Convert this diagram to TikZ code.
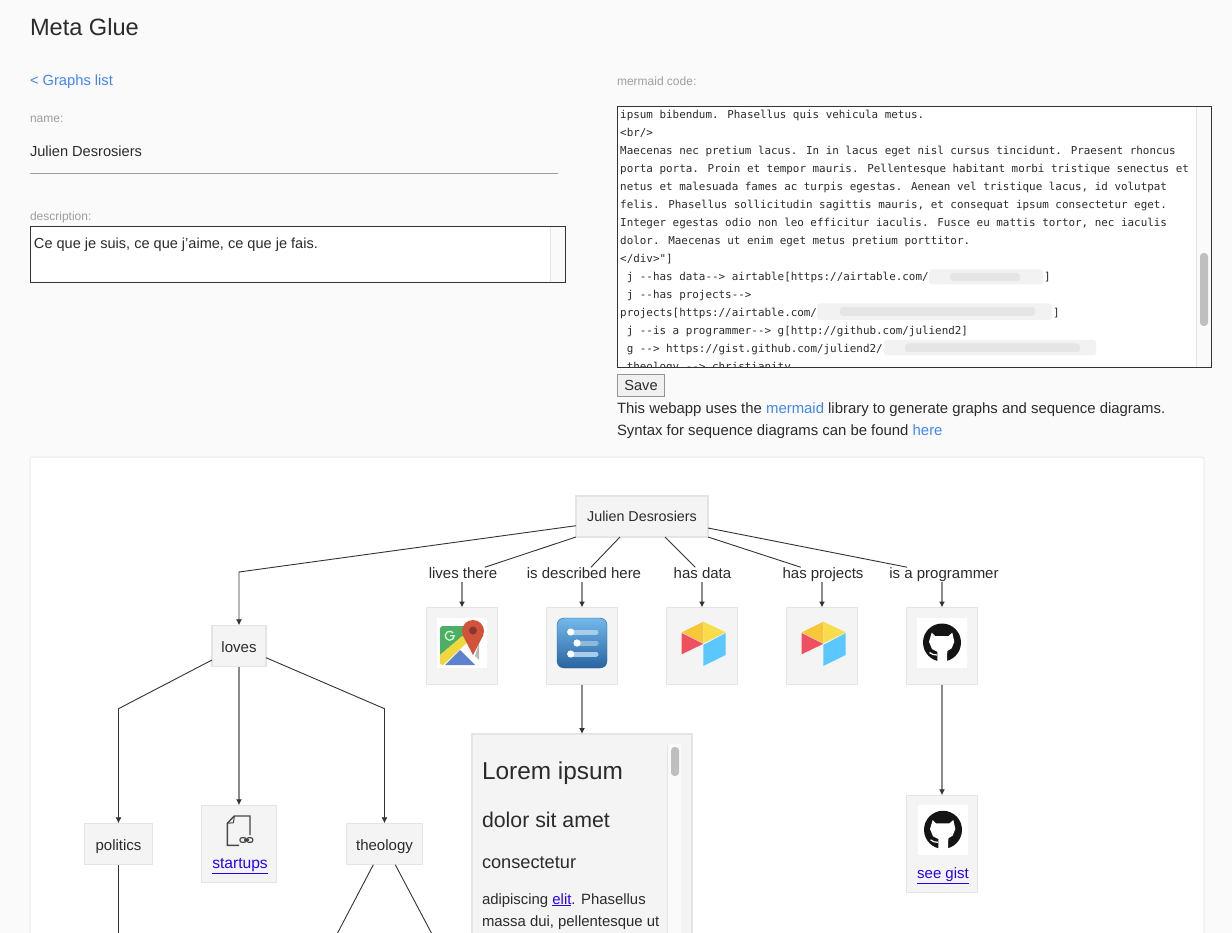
\documentclass[tikz,border=0pt]{standalone}
\usepackage{fontspec}
\setmainfont{Liberation Sans}
\newfontfamily\codefont{DejaVu Sans Mono}
\usetikzlibrary{arrows.meta}
\definecolor{pagebg}{HTML}{FAFAFA}
\definecolor{ink}{HTML}{2B2B2B}
\definecolor{muted}{HTML}{9E9E9E}
\definecolor{linkblue}{HTML}{4285F4}
\definecolor{anchorblue}{HTML}{2A00F5}
\definecolor{boxfill}{HTML}{F4F4F4}
\definecolor{boxline}{HTML}{E4E4E4}
\definecolor{edgedark}{HTML}{333333}
\definecolor{edgegrey}{HTML}{8A8A8A}
\definecolor{barlight}{HTML}{A9CDE8}
\definecolor{barfaint}{HTML}{8FB8DA}
\tikzset{
  txt/.style={inner sep=0pt, outer sep=0pt, text=ink, font=\fontsize{14.9}{18}\selectfont},
  lefttxt/.style={txt, anchor=base west},
  small/.style={lefttxt, text=muted, font=\fontsize{12}{14}\selectfont},
  codeline/.style={inner sep=0pt, anchor=base west, text=ink, font=\codefont\fontsize{10.9}{18}\selectfont},
  gbox/.style={draw=boxline, fill=boxfill, line width=1.2pt, inner sep=0pt, outer sep=0pt, text=ink,
    font=\fontsize{15}{18}\selectfont, text height=12pt, text depth=0pt},
  iconbox/.style={gbox, line width=1.8pt, minimum width=71pt, minimum height=77pt},
  edgelabel/.style={txt, font=\fontsize{15}{18}\selectfont, text height=11pt, text depth=3.5pt},
  edge/.style={draw=edgedark, line width=0.9pt, -{Latex[length=6pt,width=6pt,color=edgedark]}},
  bare/.style={draw=edgedark, line width=0.9pt},
  straightedge/.style={draw=edgegrey, line width=1.4pt, -{Latex[length=6pt,width=6pt,color=edgedark]}},
  blurA/.style={fill=#1, draw=none, rounded corners=3pt},
  pics/airtable/.style={code={
    \fill[fill={rgb,255:red,247;green,198;blue,57}] (26.3,3.7) -- (4.7,14.3) -- (26.3,25.3) -- cycle;
    \fill[fill={rgb,255:red,249;green,220;blue,75}] (26.3,3.7) -- (48.7,14.3) -- (26.3,25.3) -- cycle;
    \fill[fill={rgb,255:red,239;green,79;blue,95}] (4.7,15) -- (26.3,25.8) -- (4.7,36.3) -- cycle;
    \fill[fill={rgb,255:red,90;green,200;blue,255}] (48.7,15) -- (26.3,27) -- (26.3,48) -- (48.7,37) -- cycle;
  }},
  pics/octomark/.style={code={
    \fill[white] (0,0) rectangle (50,50);
    \fill[black!92] (25,24.5) circle (19pt);
    \fill[white] (14.7,14.7) -- (18,18) -- (31.5,18) -- (35.3,14.7) -- (37.3,23.7) -- (34.7,30.3)
      -- (30.3,33) -- (30,44) -- (20.3,44) -- (20.3,33.7) -- (15,31) -- (12,23.7) -- cycle;
    \draw[white, line width=1.2pt] (12.5,34.5) -- (16,36.5) -- (20,37);
  }}
}
\begin{document}
\begin{tikzpicture}[x=1pt, y=-1pt]
    \path[clip, use as bounding box] (0,0) rectangle (1232,933);
    \fill[pagebg] (0,0) rectangle (1232,933);

    % header and form on the left
    \node[lefttxt, font=\fontsize{23.6}{28}\selectfont] (title) at (30,35.5) {Meta Glue};
    \node[lefttxt, text=linkblue, font=\fontsize{14.7}{18}\selectfont] (back) at (30,86) {< Graphs list};
    \node[small] (namelabel) at (30,123) {name:};
    \node[lefttxt, font=\fontsize{14.6}{18}\selectfont] (namevalue) at (30,157) {Julien Desrosiers};
    \draw[muted, line width=0.9pt] (30,173.5) -- (558,173.5);
    \node[small] (desclabel) at (30,221) {description:};
    \fill[white] (30,226) rectangle (566,283);
    \fill[pagebg] (550,226) rectangle (566,283);
    \draw[boxline, line width=0.8pt] (550,226) -- (550,283);
    \draw[edgedark, line width=0.9pt] (30.5,226.5) rectangle (565.5,282.5);
    \node[lefttxt, font=\fontsize{14.55}{18}\selectfont] (descvalue) at (34,249) {Ce que je suis, ce que j'aime, ce que je fais.};

    % code area on the right
    \node[small] (codelabel) at (617,86) {mermaid code:};
    \fill[white] (617,106) rectangle (1212,368);
    \fill[pagebg] (1196.5,106) rectangle (1212,368);
    \draw[boxline, line width=0.8pt] (1196.5,106) -- (1196.5,368);
    \fill[black!25, rounded corners=3.5pt] (1200,253) rectangle (1208,326);
    \begin{scope}
        \clip (618,107) rectangle (1196,367);
        \node[codeline] (code0) at (620,118.7) {ipsum bibendum. Phasellus quis vehicula metus.};
        \node[codeline] (code1) at (620,136.7) {<br/>};
        \node[codeline] (code2) at (620,154.7) {Maecenas nec pretium lacus. In in lacus eget nisl cursus tincidunt. Praesent rhoncus};
        \node[codeline] (code3) at (620,172.7) {porta porta. Proin et tempor mauris. Pellentesque habitant morbi tristique senectus et};
        \node[codeline] (code4) at (620,190.7) {netus et malesuada fames ac turpis egestas. Aenean vel tristique lacus, id volutpat};
        \node[codeline] (code5) at (620,208.7) {felis. Phasellus sollicitudin sagittis mauris, et consequat ipsum consectetur eget.};
        \node[codeline] (code6) at (620,226.7) {Integer egestas odio non leo efficitur iaculis. Fusce eu mattis tortor, nec iaculis};
        \node[codeline] (code7) at (620,244.7) {dolor. Maecenas ut enim eget metus pretium porttitor.};
        \node[codeline] (code8) at (620,262.7) {</div>"]};
        \node[codeline] (code9) at (626.6,280.7) {j --has data--> airtable[https://airtable.com/};
        \node[codeline] (code10) at (626.6,298.7) {j --has projects-->};
        \node[codeline] (code11) at (620,316.7) {projects[https://airtable.com/};
        \node[codeline] (code12) at (626.6,334.7) {j --is a programmer--> g[http://github.com/juliend2]};
        \node[codeline] (code13) at (626.6,352.7) {g --> https://gist.github.com/juliend2/};
        \node[codeline] (code14) at (626.6,370.7) {theology --> christianity};
        % blurred ids
        \fill[blurA=black!5] (929,269.5) rectangle (1043,284.5);
        \fill[blurA=black!10] (950,273) rectangle (1020,281);
        \node[codeline] (code9end) at (1044,280.7) {]};
        \fill[blurA=black!5] (817,303.5) rectangle (1052,320);
        \fill[blurA=black!10] (840,307) rectangle (1035,316);
        \node[codeline] (code11end) at (1053,316.7) {]};
        \fill[blurA=black!5] (884,340) rectangle (1096,355.5);
        \fill[blurA=black!10] (905,343.5) rectangle (1080,352);
    \end{scope}
    \draw[edgedark, line width=0.9pt] (617.5,106.5) rectangle (1211.5,367.5);

    \node[draw=black!42, fill=black!6, line width=1pt, inner sep=0pt, outer sep=0pt, minimum width=47.5pt, minimum height=22.5pt,
        text=ink, font=\fontsize{14.6}{18}\selectfont] (save) at (641,385.5) {Save};
    \node[lefttxt] (note1) at (617,413) {This webapp uses the \textcolor{linkblue}{mermaid} library to generate graphs and sequence diagrams.};
    \node[lefttxt] (note2) at (617,435) {Syntax for sequence diagrams can be found \textcolor{linkblue}{here}};

    % card holding the graph
    \draw[fill=white, draw=black!8, line width=1pt, rounded corners=2pt] (30,457) rectangle (1204,945);

    % graph boxes
    \node[gbox, minimum width=132pt, minimum height=41pt, text height=9.5pt, font=\fontsize{14.3}{18}\selectfont] (julien) at (642,516.5) {Julien Desrosiers};
    \node[gbox, minimum width=54pt, minimum height=41.5pt] (loves) at (239,646) {loves};
    \node[gbox, minimum width=67.5pt, minimum height=41.5pt] (politics) at (118.5,844) {politics};
    \node[gbox, minimum width=74.5pt, minimum height=77.5pt] (startups) at (239,844) {};
    \node[gbox, minimum width=75.5pt, minimum height=41.5pt] (theology) at (384.5,844) {theology};
    \node[iconbox] (maps) at (462,646) {};
    \node[iconbox] (doc) at (582,646) {};
    \node[iconbox] (data) at (702,646) {};
    \node[iconbox] (projects) at (822,646) {};
    \node[iconbox] (github) at (942,646) {};
    \node[gbox, minimum width=70.5pt, minimum height=97pt] (gist) at (942,843.8) {};
    \node[iconbox, minimum width=220.5pt, minimum height=204pt] (lorem) at (582,836) {};

    % edge labels
    \node[edgelabel] (lives) at (463,574.5) {lives there};
    \node[edgelabel] (described) at (584,574.5) {is described here};
    \node[edgelabel] (hasdata) at (702.5,574.5) {has data};
    \node[edgelabel] (hasprojects) at (823,574.5) {has projects};
    \node[edgelabel] (programmer) at (944,574.5) {is a programmer};

    % bends and free ends
    \coordinate (bendL) at (239,572);
    \coordinate (bendP) at (118.5,708.7);
    \coordinate (bendT) at (384.5,708.7);
    \coordinate (endP) at (118.5,936);
    \coordinate (endC) at (336,936);
    \coordinate (endR) at (433,936);

    % connectors
    \draw[edge] ([yshift=-9.2pt]julien.west) -- (bendL) -- (loves.north);
    \draw[bare] (julien.south west) -- (lives);
    \draw[bare] ([xshift=-22pt]julien.south) -- (described);
    \draw[bare] ([xshift=23pt]julien.south) -- (hasdata);
    \draw[bare] (julien.south east) -- (hasprojects);
    \draw[bare] ([yshift=-11.5pt]julien.east) -- (programmer);
    \draw[straightedge] (maps.north |- lives.south) -- (maps.north);
    \draw[straightedge] (doc.north |- described.south) -- (doc.north);
    \draw[straightedge] (data.north |- hasdata.south) -- (data.north);
    \draw[straightedge] (projects.north |- hasprojects.south) -- (projects.north);
    \draw[straightedge] (github.north |- programmer.south) -- (github.north);
    \draw[straightedge] (doc.south) -- (lorem.north);
    \draw[straightedge] (github.south) -- (gist.north);
    \draw[straightedge] (loves.south) -- (startups.north);
    \draw[edge] ([yshift=-14pt]loves.west) -- (bendP) -- (politics.north);
    \draw[edge] ([yshift=-11.7pt]loves.east) -- (bendT) -- (theology.north);
    \draw[bare] (politics.south) -- (endP);
    \draw[bare] ([xshift=-11.2pt]theology.south) -- (endC);
    \draw[bare] ([xshift=10.8pt]theology.south) -- (endR);

    % map pin icon
    \begin{scope}[shift={(437,618)}]
        \fill[white] (0,0) rectangle (50,50);
        \fill[fill={rgb,255:red,76;green,175;blue,100}] (3,10) -- (5,8) -- (26,8) -- (29,15) -- (3,37) -- cycle;
        \fill[fill={rgb,255:red,240;green,215;blue,60}] (3,37) -- (29,15) -- (34,21) -- (6,47) -- (3,46) -- cycle;
        \fill[fill={rgb,255:red,94;green,130;blue,206}] (8,47) -- (23,32) -- (38,47) -- cycle;
        \fill[black!28] (42,25) -- (42,42) -- (38,38) -- cycle;
        \fill[fill={rgb,255:red,208;green,83;blue,58}] (36,13) circle (11pt);
        \fill[fill={rgb,255:red,208;green,83;blue,58}] (25.6,17) -- (36,37) -- (46.4,17) -- cycle;
        \fill[fill={rgb,255:red,135;green,55;blue,48}] (36,12.5) circle (4pt);
        \draw[white!85!green, line width=1.3pt] (16.2,14.8) arc[start angle=40, end angle=360, radius=4.5pt] -- (13,17.7);
    \end{scope}

    % list icon
    \begin{scope}[shift={(557,618)}]
        \draw[draw={rgb,255:red,45;green,95;blue,150}, top color={rgb,255:red,115;green,185;blue,235},
            bottom color={rgb,255:red,40;green,100;blue,160}, rounded corners=7pt] (0,0) rectangle (50,50);
        \draw[barlight, line width=5pt, line cap=round] (14,14) -- (39,14);
        \draw[barfaint, line width=5pt, line cap=round] (20,25) -- (39,25);
        \draw[barlight, line width=5pt, line cap=round] (14,36) -- (39,36);
        \fill[white] (13.7,14) circle (3.6pt);
        \fill[white] (20,25) circle (3.6pt);
        \fill[white] (13.7,36) circle (3.6pt);
    \end{scope}

    \pic (tableA) at (677,618) {airtable};
    \pic (tableB) at (797,618) {airtable};
    \pic (octoA) at (917,618) {octomark};
    \pic (octoB) at (918,805.3) {octomark};
    \node[txt, text=anchorblue, font=\fontsize{15}{18}\selectfont] (gistlink) at (943,876) {\underline{see gist}};

    % linked file icon
    \draw[black!72, line width=1.4pt] (250,835) -- (250,816) -- (234.3,816) -- (227.3,823.3) -- (227.3,845.3) -- (239,845.3);
    \draw[black!72, line width=1pt] (234.3,816) -- (233.5,822.7) -- (227.3,823.3);
    \draw[black!72, line width=1.2pt, rounded corners=2pt] (240,837.7) rectangle (246.2,842.3);
    \draw[black!72, line width=1.2pt, rounded corners=2pt] (246.6,837.7) rectangle (252.8,842.3);
    \draw[black!72, line width=1.2pt] (244,840) -- (249,840);
    \node[txt, text=anchorblue, font=\fontsize{15.6}{18}\selectfont] (startupslink) at (240,866) {\underline{startups}};

    % scrolling text in the description box
    \fill[pagebg] (667.3,744) rectangle (681,936);
    \draw[boxline, line width=0.8pt] (667.3,744) -- (667.3,936);
    \fill[black!25, rounded corners=3.5pt] (671,747) rectangle (679,776);
    \node[lefttxt, font=\fontsize{24.4}{28}\selectfont] (lorem1) at (482,779) {Lorem ipsum};
    \node[lefttxt, font=\fontsize{21.3}{24}\selectfont] (lorem2) at (482,827) {dolor sit amet};
    \node[lefttxt, font=\fontsize{18.2}{20}\selectfont] (lorem3) at (482,868) {consectetur};
    \node[lefttxt] (lorem4) at (482,904) {adipiscing \textcolor{anchorblue}{\underline{elit}}. Phasellus};
    \node[lefttxt] (lorem5) at (482,926) {massa dui, pellentesque ut};
\end{tikzpicture}
\end{document}
